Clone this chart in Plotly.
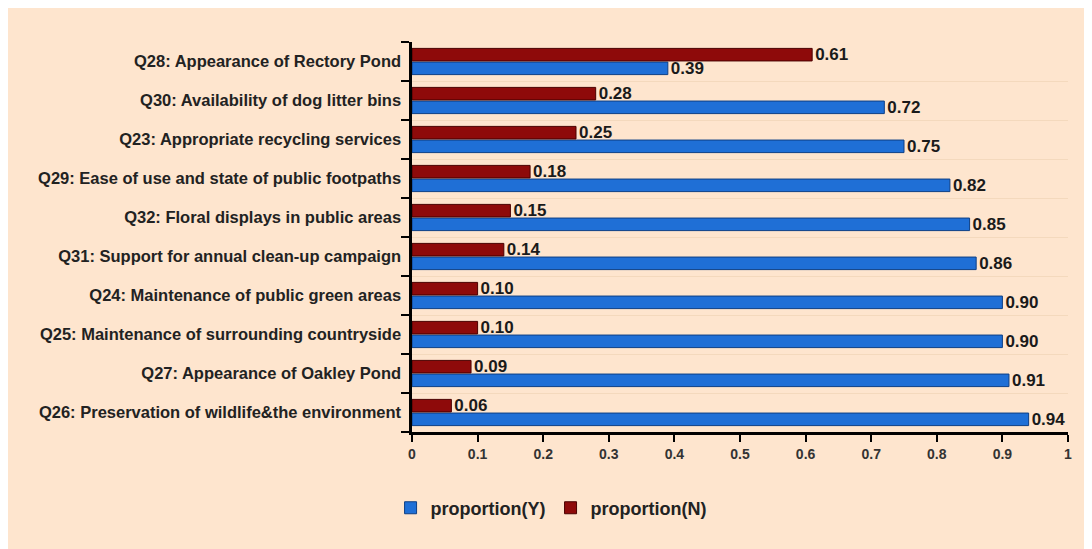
import plotly.graph_objects as go

categories = [
    "Q26: Preservation of wildlife&the environment",
    "Q27: Appearance of Oakley Pond",
    "Q25: Maintenance of surrounding countryside",
    "Q24: Maintenance of public green areas",
    "Q31: Support for annual clean-up campaign",
    "Q32: Floral displays in public areas",
    "Q29: Ease of use and state of public footpaths",
    "Q23: Appropriate recycling services",
    "Q30: Availability of dog litter bins",
    "Q28: Appearance of Rectory Pond",
]
prop_y = [0.94, 0.91, 0.90, 0.90, 0.86, 0.85, 0.82, 0.75, 0.72, 0.39]
prop_n = [0.06, 0.09, 0.10, 0.10, 0.14, 0.15, 0.18, 0.25, 0.28, 0.61]
x_ticks = [0, 0.1, 0.2, 0.3, 0.4, 0.5, 0.6, 0.7, 0.8, 0.9, 1]
x_tick_labels = ["0", "0.1", "0.2", "0.3", "0.4", "0.5", "0.6", "0.7", "0.8", "0.9", "1"]

W, H = 1092, 549
L, R, T, B = 404, 32, 34, 125

BG = "#FEE5CE"
BLUE = "#1F6FD6"
RED = "#8E0A0A"
FONT = "Liberation Sans, Arial, sans-serif"
TXT = "#1a1a1a"

fig = go.Figure()
fig.add_trace(go.Bar(
    y=categories, x=prop_y, orientation="h", name="proportion(Y)",
    marker=dict(color=BLUE, line=dict(color="#0D3F86", width=1)),
    text=[f"{v:.2f}" for v in prop_y], textposition="outside", constraintext="none",
    textfont=dict(family=FONT, size=17, color=TXT, weight="bold"),
    cliponaxis=False,
))
fig.add_trace(go.Bar(
    y=categories, x=prop_n, orientation="h", name="proportion(N)",
    marker=dict(color=RED, line=dict(color="#4A0000", width=1)),
    text=[f"{v:.2f}" for v in prop_n], textposition="outside", constraintext="none",
    textfont=dict(family=FONT, size=17, color=TXT, weight="bold"),
    cliponaxis=False,
))

fig.update_layout(
    width=W, height=H,
    margin=dict(l=L, r=R, t=T, b=B),
    paper_bgcolor=BG, plot_bgcolor=BG,
    barmode="group", bargap=0.3, bargroupgap=0.08,
    font=dict(family=FONT, size=16, color=TXT, weight="bold"),
    showlegend=True,
    legend=dict(orientation="h", x=0.212, xanchor="center", y=-0.195, yanchor="middle",
                traceorder="normal", itemwidth=30,
                font=dict(family=FONT, size=18, color="#222", weight="bold"),
                bgcolor="rgba(0,0,0,0)"),
    xaxis=dict(range=[0, 1], tickmode="array", tickvals=x_ticks, ticktext=x_tick_labels,
               showgrid=False, zeroline=False, showline=True, linecolor="black", linewidth=3,
               ticks="outside", ticklen=7, tickwidth=2, tickcolor="black",
               tickfont=dict(family=FONT, size=14, color="#333", weight="bold")),
    yaxis=dict(categoryorder="array", categoryarray=categories,
               showgrid=True, gridcolor="#F4D9BD", gridwidth=1,
               showline=True, linecolor="black", linewidth=3,
               ticks="outside", tickson="boundaries", ticklen=8, tickwidth=2, tickcolor="black",
               tickfont=dict(family=FONT, size=16.5, color="#222", weight="bold"), ticksuffix=" "),
)

fig.write_html("out.html")
